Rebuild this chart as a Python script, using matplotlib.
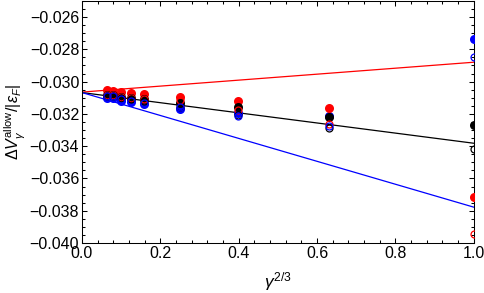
import matplotlib
matplotlib.use('Agg')
import matplotlib.pyplot as plt
from matplotlib.ticker import MultipleLocator, FuncFormatter

plt.rcParams['font.family'] = ['Liberation Sans', 'DejaVu Sans']
plt.rcParams['mathtext.fontset'] = 'custom'
plt.rcParams['mathtext.rm'] = 'Liberation Sans'
plt.rcParams['mathtext.it'] = 'Liberation Sans:italic'

# x values: gamma^(2/3)
x = [0.063, 0.079, 0.100, 0.126, 0.158, 0.251, 0.398, 0.631, 1.0]

red_full = [-0.03055, -0.03060, -0.03065, -0.03068, -0.03078, -0.03095, -0.03120, -0.03165, -0.03716]
red_open = [-0.03085, -0.03085, -0.03095, -0.03100, -0.03110, -0.03115, -0.03178, -0.03260, -0.03944]
black_full = [-0.03080, -0.03080, -0.03095, -0.03100, -0.03110, -0.03135, -0.03160, -0.03222, -0.03271]
black_open = [-0.03090, -0.03090, -0.03100, -0.03110, -0.03120, -0.03160, -0.03210, -0.03290, -0.03420]
blue_full = [-0.03100, -0.03100, -0.03118, -0.03128, -0.03140, -0.03168, -0.03195, -0.03216, -0.02734]
blue_open = [-0.03092, -0.03092, -0.03110, -0.03120, -0.03130, -0.03158, -0.03212, -0.03275, -0.02847]

# linear fits (value at 0, value at 1)
fit_x = [0.0, 1.0]
red_fit = [-0.03065, -0.02880]
black_fit = [-0.03068, -0.03382]
blue_fit = [-0.03068, -0.03778]

fig = plt.figure(figsize=(4.84, 2.93), dpi=100)
ax = fig.add_axes([0.1694, 0.1706, 0.8096, 0.8264])

ax.plot(fit_x, red_fit, color='#ff0000', lw=0.9)
ax.plot(fit_x, black_fit, color='black', lw=0.9)
ax.plot(fit_x, blue_fit, color='#0000ff', lw=0.9)

for ys, c in [(blue_full, '#0000ff'), (red_full, '#ff0000'), (black_full, 'black')]:
    ax.plot(x, ys, 'o', color=c, ms=6.5, mew=0, zorder=3)
for ys, c in [(red_open, '#ff0000'), (black_open, 'black'), (blue_open, '#0000ff')]:
    ax.plot(x, ys, 'o', mfc='none', mec=c, ms=5, mew=0.9, zorder=4)

ax.set_xlim(0, 1.0)
ax.set_ylim(-0.040, -0.025)
ax.xaxis.set_major_locator(MultipleLocator(0.2))
ax.xaxis.set_minor_locator(MultipleLocator(0.04))
ax.yaxis.set_major_locator(MultipleLocator(0.002))
ax.yaxis.set_minor_locator(MultipleLocator(0.0005))
ax.xaxis.set_major_formatter(FuncFormatter(lambda v, p: f'{v:.1f}'))
ax.yaxis.set_major_formatter(FuncFormatter(lambda v, p: f'{v:.3f}'.replace('-', '\u2212')))
ax.tick_params(which='both', direction='in', top=True, right=True, labelsize=11.5, width=0.75)
ax.tick_params(which='major', length=3.5, pad=2)
ax.tick_params(which='minor', length=2)
for s in ax.spines.values():
    s.set_linewidth(0.75)

ax.set_xlabel(r'$\gamma^{2/3}$', fontsize=12.5, labelpad=7)
ax.set_ylabel(r'$\Delta V_{\gamma}^{\rm allow}/|\epsilon_F|$', fontsize=11.5)
ax.yaxis.set_label_coords(-0.138, 0.5)

fig.savefig('out.png', dpi=100)
